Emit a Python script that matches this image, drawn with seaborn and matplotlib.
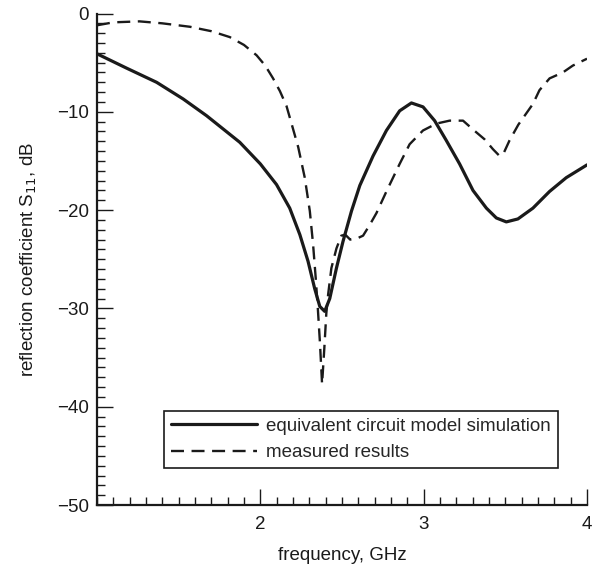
import matplotlib
matplotlib.use("Agg")
import matplotlib.pyplot as plt
from matplotlib.ticker import MultipleLocator
import seaborn as sns
import pandas as pd

sim_freq = [1.00, 1.18, 1.365, 1.528, 1.671, 1.874, 2.00, 2.099, 2.18, 2.242, 2.292,
            2.333, 2.364, 2.394, 2.425, 2.466, 2.506, 2.558, 2.609, 2.69, 2.772, 2.853,
            2.925, 2.996, 3.067, 3.138, 3.22, 3.302, 3.384, 3.445, 3.506, 3.577, 3.669,
            3.771, 3.873, 4.00]
sim_db = [-4.1, -5.55, -7.0, -8.7, -10.4, -13.1, -15.3, -17.4, -19.8, -22.5, -25.2,
          -28.0, -29.8, -30.3, -29.0, -25.9, -23.2, -20.1, -17.5, -14.5, -11.9, -9.9,
          -9.1, -9.5, -10.9, -12.9, -15.3, -18.0, -19.8, -20.8, -21.2, -20.9, -19.8,
          -18.1, -16.7, -15.4]

meas_freq = [1.00, 1.10, 1.26, 1.40, 1.569, 1.70, 1.813, 1.90, 1.977, 2.03, 2.078, 2.12,
             2.16, 2.191, 2.232, 2.272, 2.303, 2.323, 2.339, 2.352, 2.365, 2.378, 2.392,
             2.404, 2.415, 2.435, 2.466, 2.496, 2.52, 2.55, 2.59, 2.629, 2.67, 2.711,
             2.772, 2.853, 2.914, 2.996, 3.078, 3.159, 3.241, 3.302, 3.373, 3.424, 3.465,
             3.49, 3.526, 3.58, 3.669, 3.709, 3.771, 3.852, 3.913, 3.975, 4.00]
meas_db = [-1.2, -0.9, -0.8, -1.0, -1.35, -1.8, -2.4, -3.2, -4.25, -5.3, -6.6, -7.9,
           -9.4, -11.2, -13.6, -16.7, -20.1, -23.5, -26.9, -30.0, -33.5, -37.7, -34.0,
           -30.5, -28.6, -25.9, -23.9, -22.6, -22.5, -23.0, -22.9, -22.6, -21.5, -20.3,
           -18.1, -15.3, -13.3, -11.9, -11.2, -10.9, -10.9, -11.8, -12.8, -13.8, -14.5,
           -14.2, -12.9, -11.3, -9.2, -7.8, -6.6, -6.0, -5.3, -4.8, -4.6]

labels = ["equivalent circuit model simulation", "measured results"]
x_ticks = [2, 3, 4]
y_ticks = [0, -10, -20, -30, -40, -50]

sns.set_theme(style="ticks")
plt.rcParams["font.family"] = ["Liberation Sans", "DejaVu Sans"]
plt.rcParams["axes.unicode_minus"] = True

fs = 13.5
ink = "#1a1a1a"
fig = plt.figure(figsize=(5.99, 5.67), dpi=100)
ax = fig.add_axes([97 / 599, 1 - 505 / 567, 490 / 599, (505 - 13.5) / 567])

df_sim = pd.DataFrame({"f": sim_freq, "s": sim_db})
df_meas = pd.DataFrame({"f": meas_freq, "s": meas_db})
sns.lineplot(data=df_sim, x="f", y="s", ax=ax, color=ink, lw=2.3,
             label=labels[0], sort=False)
sns.lineplot(data=df_meas, x="f", y="s", ax=ax, color=ink, lw=1.7,
             label=labels[1], sort=False, linestyle=(0, (5.5, 3.2)))
for ln in ax.get_lines():
    ln.set_solid_joinstyle("round")
    ln.set_dash_joinstyle("round")

ax.set_xlim(1, 4)
ax.set_ylim(-50, 0)
ax.set_xticks(x_ticks)
ax.set_yticks(y_ticks)
ax.xaxis.set_minor_locator(MultipleLocator(0.1))
ax.yaxis.set_minor_locator(MultipleLocator(1))
ax.tick_params(which="major", direction="in", length=11.5, width=1.0, color=ink,
               labelsize=fs, labelcolor=ink, pad=6)
ax.tick_params(which="minor", direction="in", length=5.8, width=1.0, color=ink)
ax.tick_params(axis="x", which="major", pad=8)
for s in ["top", "right"]:
    ax.spines[s].set_visible(False)
for s in ["left", "bottom"]:
    ax.spines[s].set_linewidth(1.6)
    ax.spines[s].set_color(ink)

ax.set_xlabel("frequency, GHz", fontsize=fs, color=ink, labelpad=10)
ax.set_ylabel("reflection coefficient S$_{11}$, dB", fontsize=fs, color=ink,
              labelpad=13)

leg = ax.legend(loc="upper left", bbox_to_anchor=(0.137, 0.191), fontsize=fs,
                frameon=True, fancybox=False, edgecolor=ink, framealpha=1,
                handlelength=4.6, handletextpad=0.5, borderpad=0.35, labelspacing=0.5,
                borderaxespad=0)
leg.get_frame().set_linewidth(1.2)

fig.savefig("out.png", dpi=100)
